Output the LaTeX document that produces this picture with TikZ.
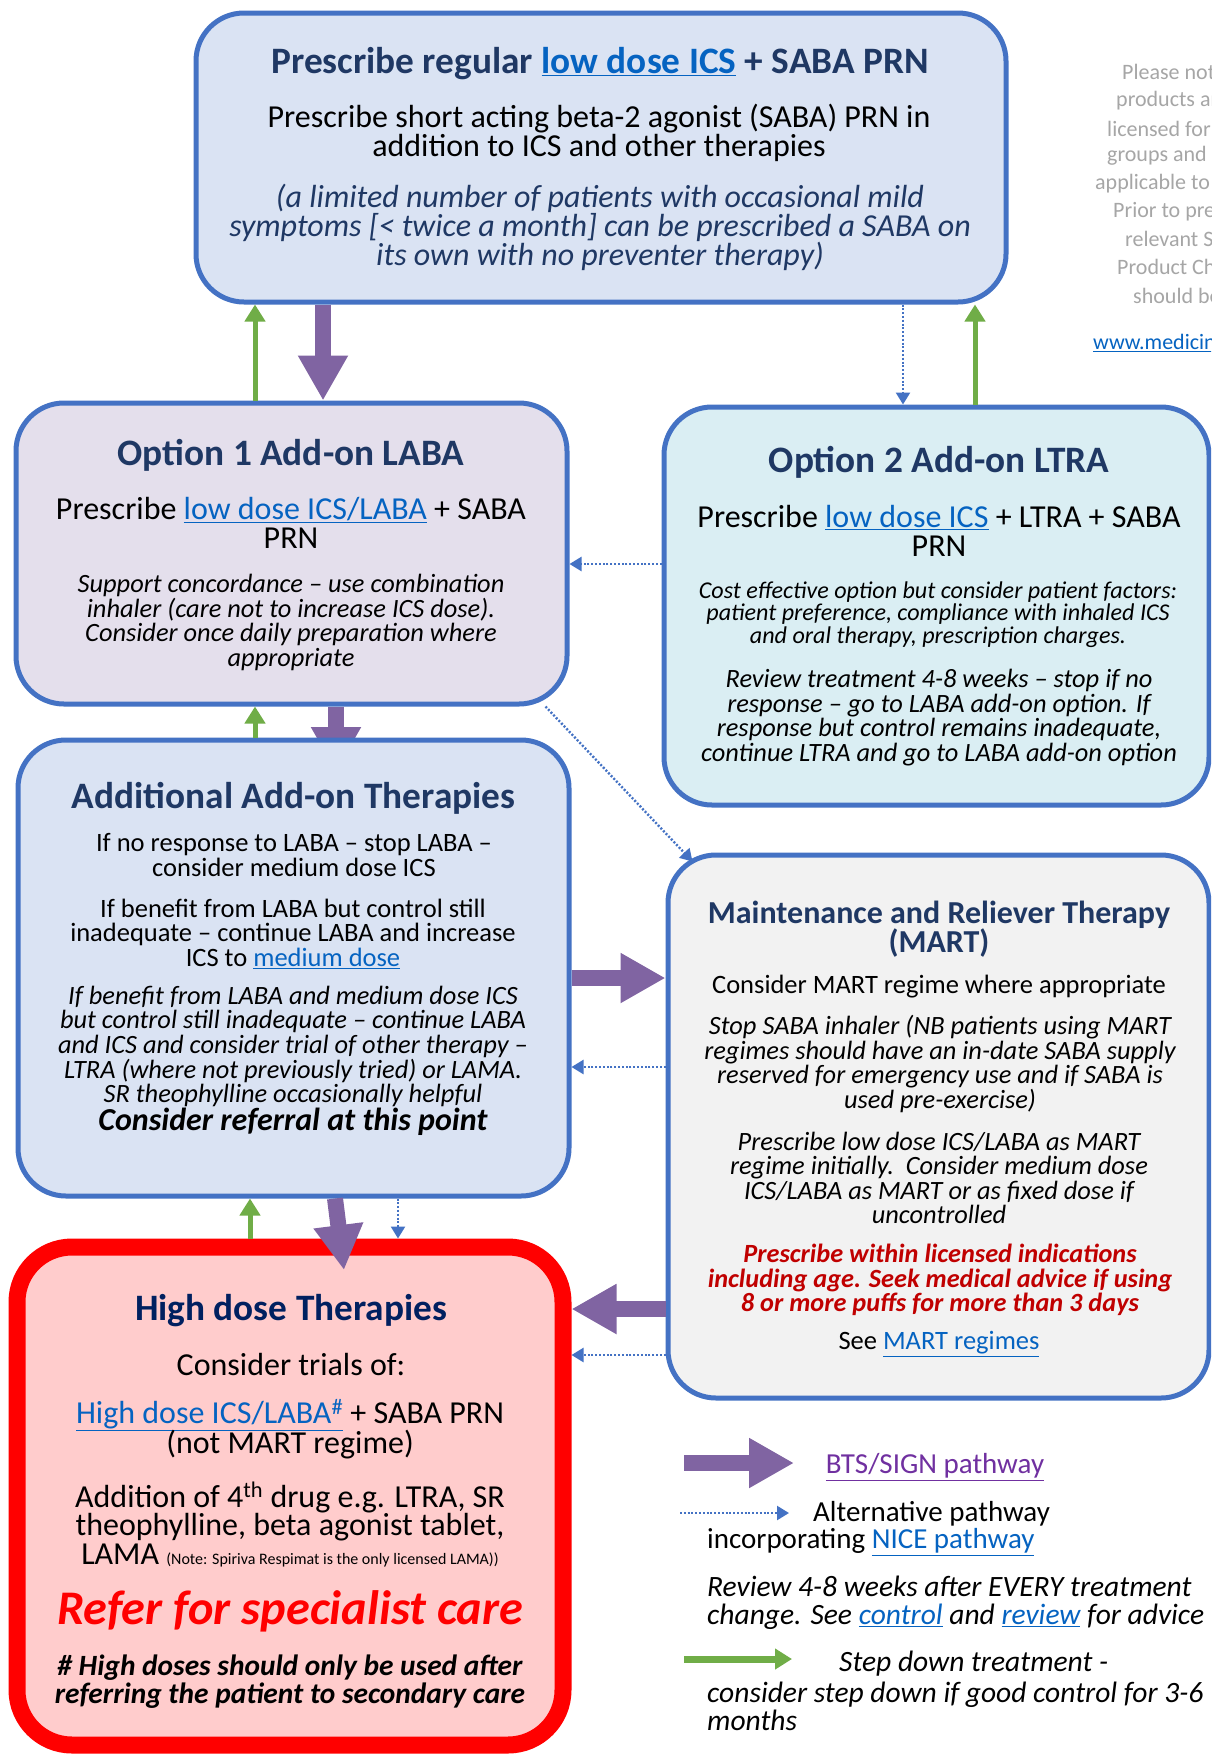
\documentclass[tikz,border=0pt]{standalone}
\usepackage{fontspec}
\setmainfont{Carlito}
\usetikzlibrary{arrows.meta}
\definecolor{navy}{HTML}{1F3864}
\definecolor{navydark}{HTML}{002060}
\definecolor{boxblue}{HTML}{4472C4}
\definecolor{linkblue}{HTML}{0563C1}
\definecolor{topfill}{HTML}{DAE3F3}
\definecolor{labafill}{HTML}{E4DFEC}
\definecolor{ltrafill}{HTML}{DAEEF3}
\definecolor{martfill}{HTML}{F2F2F2}
\definecolor{hifill}{HTML}{FFCCCC}
\definecolor{hired}{HTML}{FF0000}
\definecolor{warnred}{HTML}{C00000}
\definecolor{btspurple}{HTML}{8064A2}
\definecolor{btslink}{HTML}{7030A0}
\definecolor{stepgreen}{HTML}{70AD47}
\definecolor{notegray}{HTML}{A6A6A6}
\newcommand\lnk[1]{\textcolor{linkblue}{\underline{#1}}}
\newcommand\fsz[2]{\fontsize{#1}{#2}\selectfont\lineskiplimit=-100pt\lineskip=0pt\relax}
\begin{document}
\begin{tikzpicture}[x=1pt,y=-1pt,line join=round,
    box/.style={draw=boxblue,line width=5pt,rounded corners=48pt,inner sep=0pt},
    ttl/.style={font={\fsz{37.3}{40}\bfseries},text=navy,align=center,inner sep=0pt,yshift=-3pt},
    txtL/.style={font={\fsz{32}{29}},align=center,inner sep=0pt,yshift=-3pt},
    txtS/.style={font={\fsz{26.5}{24.6}},align=center,inner sep=0pt,yshift=-3pt},
    itL/.style={font={\fsz{32}{29}\itshape},align=center,inner sep=0pt,yshift=-3pt},
    itS/.style={font={\fsz{26.4}{24.6}\itshape},align=center,inner sep=0pt,yshift=-3pt},
    lgd/.style={font={\fsz{29}{28}},inner sep=0pt,yshift=-2pt},
    gnote/.style={font={\fsz{22}{28}},text=notegray,anchor=west,inner sep=0pt},
    bts/.style={draw=btspurple,line width=16pt,-{Triangle[width=47pt,length=45pt]}},
    stepdown/.style={draw=stepgreen,line width=5pt,-{Triangle[width=20pt,length=17pt]}},
    altpath/.style={draw=boxblue,line width=2.4pt,dash pattern=on 2pt off 1.8pt,-{Triangle[width=14pt,length=12pt]}}]
    %% page
    \path[use as bounding box,fill=white] (0,0) rectangle (1211,1754);
    \clip (0,0) rectangle (1211,1754);
    %% x and y of the connectors
    \coordinate (ga) at (255,0);
    \coordinate (gb) at (975,0);
    \coordinate (gc) at (250,0);
    \coordinate (pa) at (323,0);
    \coordinate (pb) at (336,772);
    \coordinate (pd) at (335,0);
    \coordinate (pdend) at (344,1270);
    \coordinate (da) at (903,0);
    \coordinate (dd) at (398,0);
    \coordinate (db) at (0,564);
    \coordinate (pc) at (0,978);
    \coordinate (dc) at (0,1067);
    \coordinate (pe) at (0,1309);
    \coordinate (de) at (0,1355);
    %% boxes
    \node[box,fill=topfill,minimum width=810pt,minimum height=289pt] (top) at (601,157.5) {};
    \node[box,fill=labafill,minimum width=551pt,minimum height=301pt] (opt1) at (291.5,553.5) {};
    \node[box,fill=ltrafill,minimum width=545pt,minimum height=398pt] (opt2) at (936.5,606) {};
    \draw[bts] (pb |- opt1.south) -- (pb);
    \node[box,fill=topfill,minimum width=551pt,minimum height=456pt] (add) at (293.5,968) {};
    \node[box,fill=martfill,minimum width=541pt,minimum height=543pt] (mart) at (938.5,1126.5) {};
    \node[box,draw=hired,line width=17pt,rounded corners=55pt,fill=hifill,minimum width=546pt,minimum height=498pt] (high) at (290,1496) {};
    %% top box
    \node[ttl] (toptitle) at (600,61) {Prescribe regular \lnk{low dose ICS} + SABA PRN};
    \node[txtL] (toptxt) at (599,129.5) {Prescribe short acting beta-2 agonist (SABA) PRN in\\addition to ICS and other therapies};
    \node[itL,text=navy] (topnote) at (600,224) {(a limited number of patients with occasional mild\\symptoms [< twice a month] can be prescribed a SABA on\\its own with no preventer therapy)};
    %% option 1
    \node[ttl] (opt1title) at (291,452) {Option 1 Add-on LABA};
    \node[txtL] (opt1txt) at (291,520) {Prescribe \lnk{low dose ICS/LABA} + SABA\\PRN};
    \node[itS] (opt1note) at (291,619.5) {Support concordance – use combination\\inhaler (care not to increase ICS dose).\\Consider once daily preparation where\\appropriate};
    %% option 2
    \node[ttl] (opt2title) at (939,459) {Option 2 Add-on LTRA};
    \node[txtL] (opt2txt) at (939,527.5) {Prescribe \lnk{low dose ICS} + LTRA + SABA\\PRN};
    \node[itS,font={\fsz{24.1}{22.5}\itshape}] (opt2cost) at (938,611.5) {Cost effective option but consider patient factors:\\patient preference, compliance with inhaled ICS\\and oral therapy, prescription charges.};
    \node[itS] (opt2review) at (939,714.5) {Review treatment 4-8 weeks – stop if no\\response – go to LABA add-on option. If\\response but control remains inadequate,\\continue LTRA and go to LABA add-on option};
    %% additional therapies
    \node[ttl] (addtitle) at (293.5,795) {Additional Add-on Therapies};
    \node[txtS] (addno) at (294,852) {If no response to LABA – stop LABA –\\consider medium dose ICS};
    \node[txtS] (addbenefit) at (293,930.5) {If benefit from LABA but control still\\inadequate – continue LABA and increase\\ICS to \lnk{medium dose}};
    \node[itS] (addtrial) at (293,1043.5) {If benefit from LABA and medium dose ICS\\but control still inadequate – continue LABA\\and ICS and consider trial of other therapy –\\LTRA (where not previously tried) or LAMA.\\SR theophylline occasionally helpful};
    \node[txtS,font={\fsz{32}{34}\bfseries\itshape}] (addrefer) at (293,1119) {Consider referral at this point};
    %% MART
    \node[ttl,font={\fsz{32}{29}\bfseries}] (marttitle) at (939,926.5) {Maintenance and Reliever Therapy\\(MART)};
    \node[txtS] (martcons) at (939,984) {Consider MART regime where appropriate};
    \node[itS] (martstop) at (940,1061) {Stop SABA inhaler (NB patients using MART\\regimes should have an in-date SABA supply\\reserved for emergency use and if SABA is\\used pre-exercise)};
    \node[itS] (martlow) at (939,1175) {Prescribe low dose ICS/LABA as MART\\regime initially.\ \ Consider medium dose\\ICS/LABA as MART or as fixed dose if\\uncontrolled};
    \node[itS,font={\fsz{26.3}{24.6}\bfseries\itshape},text=warnred] (martwarn) at (940,1277) {Prescribe within licensed indications\\including age. Seek medical advice if using\\8 or more puffs for more than 3 days};
    \node[txtS] (martsee) at (939,1341) {See \lnk{MART regimes}};
    %% high dose
    \node[ttl,text=navydark] (hititle) at (291,1308) {High dose Therapies};
    \node[txtL] (hitrials) at (291,1361) {Consider trials of:};
    \node[txtL,font={\fsz{32}{30}}] (hiics) at (290,1426) {\lnk{High dose ICS/LABA\textsuperscript{\#}} + SABA PRN\\(not MART regime)};
    \node[txtL,font={\fsz{32}{28.5}}] (hiadd) at (290,1521.5) {Addition of 4\textsuperscript{th} drug e.g. LTRA, SR\\theophylline, beta agonist tablet,\\LAMA {\fsz{16}{16}(Note: Spiriva Respimat is the only licensed LAMA))}};
    \node[txtL,font={\fsz{48.3}{50}\bfseries\itshape},text=hired] (hirefer) at (290,1608) {Refer for specialist care};
    \node[txtL,font={\fsz{29.4}{28}\bfseries\itshape}] (hinote) at (290,1679) {\# High doses should only be used after\\referring the patient to secondary care};
    %% connectors
    \draw[stepdown] (ga |- opt1.north) -- (ga |- top.south);
    \draw[bts] (pa |- top.south) -- (pa |- opt1.north);
    \draw[altpath] (da |- top.south) -- (da |- opt2.north);
    \draw[stepdown] (gb |- opt2.north) -- (gb |- top.south);
    \draw[altpath] (db -| opt2.west) -- (db -| opt1.east);
    \draw[stepdown] (ga |- add.north) -- (ga |- opt1.south);
    \draw[altpath] ([xshift=-24pt]opt1.south east) -- ([xshift=27pt,yshift=-9pt]mart.north west);
    \draw[bts] (pc -| add.east) -- (pc -| mart.west);
    \draw[altpath] (dc -| mart.west) -- (dc -| add.east);
    \draw[stepdown] (gc |- high.north) -- (gc |- add.south);
    \draw[bts] (pd |- add.south) -- (pdend);
    \draw[altpath] (dd |- add.south) -- (dd |- high.north);
    \draw[bts] (pe -| mart.west) -- (pe -| high.east);
    \draw[altpath] (de -| mart.west) -- (de -| high.east);
    %% legend
    \coordinate (lga) at (684,1463);
    \coordinate (lgb) at (794,1463);
    \coordinate (lgc) at (680,1513);
    \coordinate (lgd) at (789,1513);
    \coordinate (lge) at (684,1659);
    \coordinate (lgf) at (792,1659);
    \draw[bts] (lga) -- (lgb);
    \draw[altpath] (lgc) -- (lgd);
    \draw[stepdown,line width=7pt] (lge) -- (lgf);
    \node[lgd] (btslbl) at (935,1465) {\textcolor{btslink}{\underline{BTS/SIGN pathway}}};
    \node[lgd,anchor=west] (altlbl) at (813,1512) {Alternative pathway};
    \node[lgd,anchor=west] (nicelbl) at (707,1540) {incorporating \lnk{NICE pathway}};
    \node[lgd,font={\fsz{29.5}{28}\itshape},anchor=west,align=left] (reviewlbl) at (707,1601) {Review 4-8 weeks after EVERY treatment\\change. See \lnk{control} and \lnk{review} for advice};
    \node[lgd,font={\fsz{29.5}{28}\itshape},anchor=west] (steplbl) at (839,1662) {Step down treatment -};
    \node[lgd,font={\fsz{29.5}{28}\itshape},anchor=west,align=left] (stepmore) at (707,1704) {consider step down if good control for 3-6\\months};
    %% side note, cut by the page edge
    \node[gnote] (gn1) at (1122,72) {Please not};
    \node[gnote] (gn2) at (1116,101) {products ar};
    \node[gnote] (gn3) at (1107,129) {licensed for};
    \node[gnote] (gn4) at (1107,156) {groups and s};
    \node[gnote] (gn5) at (1095,184) {applicable to};
    \node[gnote] (gn6) at (1113,212) {Prior to pre};
    \node[gnote] (gn7) at (1125,239) {relevant S};
    \node[gnote] (gn8) at (1117,267) {Product Ch};
    \node[gnote] (gn9) at (1133,296) {should be};
    \node[gnote] (gnweb) at (1093,343) {\lnk{www.medicin}};
\end{tikzpicture}
\end{document}
